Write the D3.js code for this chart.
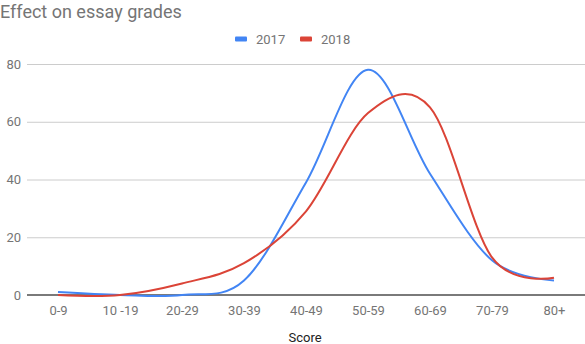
<!DOCTYPE html>
<html>
<head>
<meta charset="utf-8">
<script src="https://cdn.jsdelivr.net/npm/d3@7"></script>
<style>
  html, body { margin: 0; padding: 0; background: #fff; }
  svg { display: block; font-family: Roboto, Arial, sans-serif; }
</style>
</head>
<body>
<svg id="chart" width="585" height="344"></svg>
<script>
// Score bands and the share of essays in each, per year
const categories = ["0-9", "10 -19", "20-29", "30-39", "40-49", "50-59", "60-69", "70-79", "80+"];
const values2017 = [1, 0, 0, 5, 39, 78, 42, 12, 5];
const values2018 = [0, 0, 4, 11, 29, 63, 65, 13, 6];
const yTicks = [0, 20, 40, 60, 80];
const seriesNames = ["2017", "2018"];
const seriesColors = ["#4285f4", "#db4437"];

const svg = d3.select("#chart");
const plotLeft = 27, plotRight = 585, plotTop = 64, plotBottom = 295;

const x = d3.scalePoint().domain(categories).range([plotLeft, plotRight]).padding(0.5);
const y = d3.scaleLinear().domain([0, 80]).range([plotBottom, plotTop]);

// Title
svg.append("text")
  .attr("x", 0).attr("y", 18)
  .attr("font-size", 18).attr("fill", "#757575")
  .text("Effect on essay grades");

// Legend
const legendX = [235, 300];
seriesNames.forEach((name, i) => {
  const g = svg.append("g").attr("transform", `translate(${legendX[i]},39)`);
  g.append("rect").attr("x", 0).attr("y", -2.5).attr("width", 12).attr("height", 5)
    .attr("rx", 1).attr("fill", seriesColors[i]);
  g.append("text").attr("x", 21).attr("y", 4.5)
    .attr("font-size", 13).attr("fill", "#757575").text(name);
});

// Gridlines and y labels
const yAxis = d3.axisLeft(y).tickValues(yTicks).tickSize(-(plotRight - plotLeft)).tickPadding(6);
const gy = svg.append("g").attr("transform", `translate(${plotLeft},0)`).call(yAxis);
gy.select(".domain").remove();
gy.selectAll(".tick line").attr("stroke", "#cccccc").attr("stroke-width", 1);
gy.selectAll(".tick text").attr("font-size", 13).attr("fill", "#757575")
  .attr("font-family", "Roboto, Arial, sans-serif");

// X axis labels
const xAxis = d3.axisBottom(x).tickSize(0).tickPadding(11);
const gx = svg.append("g").attr("transform", `translate(0,${plotBottom})`).call(xAxis);
gx.select(".domain").remove();
gx.selectAll(".tick text").attr("font-size", 13).attr("fill", "#757575")
  .attr("font-family", "Roboto, Arial, sans-serif");

// Baseline
svg.append("line")
  .attr("x1", plotLeft).attr("x2", plotRight).attr("y1", y(0)).attr("y2", y(0))
  .attr("stroke", "#7a7a7a").attr("stroke-width", 2);

// X axis title
svg.append("text")
  .attr("x", (plotLeft + plotRight) / 2 - 1).attr("y", 342)
  .attr("text-anchor", "middle").attr("font-size", 13).attr("fill", "#222")
  .text("Score");

// Smoothed series lines
const line = d3.line()
  .x((d, i) => x(categories[i]))
  .y(d => y(d))
  .curve(d3.curveCatmullRom.alpha(0));

[values2017, values2018].forEach((vals, i) => {
  svg.append("path")
    .datum(vals)
    .attr("fill", "none")
    .attr("stroke", seriesColors[i])
    .attr("stroke-width", 2)
    .attr("d", line);
});
</script>
</body>
</html>
